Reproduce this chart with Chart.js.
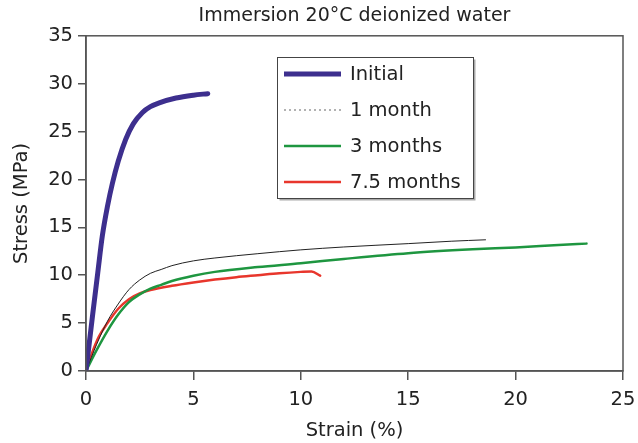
<!DOCTYPE html>
<html>
<head>
<meta charset="utf-8">
<script src="https://cdn.jsdelivr.net/npm/chart.js@4.4.1/dist/chart.umd.min.js"></script>
<style>
  body { margin: 0; background: #fff; }
  #wrap { width: 638px; height: 443px; }
</style>
</head>
<body>
<div id="wrap"><canvas id="myChart" width="638" height="443"></canvas></div>
<script>
// strain (%) / stress (MPa)
var initialStrain = [0, 0.3, 0.55, 0.76, 1.0, 1.23, 1.5, 1.85, 2.2, 2.63, 3.0, 3.41, 4.19, 5.0, 5.67]
var initialStress = [0, 5.7, 10.3, 14.1, 17.2, 19.6, 21.9, 24.2, 25.8, 27.0, 27.6, 28.0, 28.5, 28.8, 28.96]

var month1Strain = [0, 0.5, 1.0, 1.5, 2.0, 2.5, 3.0, 3.5, 4.0, 5.0, 6.0, 8.0, 10, 12, 15, 17, 18.6]
var month1Stress = [0, 2.8, 5.2, 7.0, 8.5, 9.5, 10.2, 10.6, 11.0, 11.5, 11.8, 12.25, 12.65, 12.95, 13.3, 13.55, 13.7]

var month3Strain = [0, 0.5, 1.0, 1.5, 2.0, 2.5, 3.0, 3.5, 4.0, 5.0, 6.0, 8.0, 10, 12, 15, 18, 20, 22, 23.3]
var month3Stress = [0, 2.2, 4.2, 5.9, 7.2, 8.0, 8.6, 9.0, 9.4, 9.95, 10.35, 10.85, 11.25, 11.7, 12.3, 12.7, 12.9, 13.15, 13.3]

var month75Strain = [0, 0.3, 0.6, 1.0, 1.5, 2.0, 2.5, 3.0, 4.0, 5.0, 6.0, 7.0, 8.0, 9.0, 10.0, 10.5, 10.9]
var month75Stress = [0, 2.0, 3.6, 5.0, 6.5, 7.5, 8.1, 8.45, 8.9, 9.25, 9.55, 9.8, 10.0, 10.2, 10.35, 10.4, 9.95]

var xTicks = [0, 5, 10, 15, 20, 25]
var yTicks = [0, 5, 10, 15, 20, 25, 30, 35]

function pts(xs, ys) {
    return xs.map(function (x, i) { return { x: x, y: ys[i] } })
}

Chart.defaults.font.family = "'DejaVu Sans', sans-serif"
Chart.defaults.color = '#222'

const axisColor = '#555'

// frame round the plot plus the boxed legend inside it
const boxPlugin = {
    id: 'boxPlugin',
    afterDraw(chart) {
        const ctx = chart.ctx
        const a = chart.chartArea
        ctx.save()
        ctx.strokeStyle = axisColor
        ctx.lineWidth = 1.5
        ctx.strokeRect(a.left, a.top, a.right - a.left, a.bottom - a.top)

        // legend
        const bx = 277.5, by = 57.5, bw = 196, bh = 141
        ctx.fillStyle = '#fff'
        ctx.fillRect(bx, by, bw, bh)
        ctx.strokeStyle = '#aaa'
        ctx.lineWidth = 2
        ctx.beginPath()
        ctx.moveTo(bx + 2, by + bh + 1)
        ctx.lineTo(bx + bw + 1, by + bh + 1)
        ctx.lineTo(bx + bw + 1, by + 2)
        ctx.stroke()
        ctx.strokeStyle = '#444'
        ctx.lineWidth = 1
        ctx.strokeRect(bx, by, bw, bh)

        ctx.font = "19.5px 'DejaVu Sans', sans-serif"
        ctx.textBaseline = 'middle'
        ctx.textAlign = 'left'
        chart.data.datasets.forEach(function (ds, i) {
            const ly = 74 + i * 36
            ctx.beginPath()
            ctx.strokeStyle = ds.legendColor || ds.borderColor
            ctx.lineWidth = ds.legendWidth || ds.borderWidth
            ctx.setLineDash(ds.legendDash || [])
            ctx.moveTo(284, ly)
            ctx.lineTo(341, ly)
            ctx.stroke()
            ctx.setLineDash([])
            ctx.fillStyle = '#222'
            ctx.fillText(ds.label, 350, ly + 1)
        })
        ctx.restore()
    }
}

new Chart(document.getElementById('myChart'), {
    type: 'line',
    data: {
        datasets: [{
            label: 'Initial',
            data: pts(initialStrain, initialStress),
            borderColor: '#3d2f8e',
            borderWidth: 5,
            legendWidth: 5
        }, {
            label: '1 month',
            data: pts(month1Strain, month1Stress),
            borderColor: '#222',
            borderWidth: 1,
            legendColor: '#666',
            legendWidth: 1.2,
            legendDash: [2, 3]
        }, {
            label: '3 months',
            data: pts(month3Strain, month3Stress),
            borderColor: '#1e9640',
            borderWidth: 2.5
        }, {
            label: '7.5 months',
            data: pts(month75Strain, month75Stress),
            borderColor: '#e8362c',
            borderWidth: 2.5
        }]
    },
    options: {
        responsive: false,
        animation: false,
        layout: { padding: { left: 0, right: 15, top: 0, bottom: 0 } },
        elements: {
            point: { radius: 0 },
            line: { cubicInterpolationMode: 'monotone', borderCapStyle: 'round' }
        },
        plugins: {
            legend: { display: false },
            tooltip: { enabled: false },
            title: {
                display: true,
                fullSize: false,
                text: 'Immersion 20°C deionized water',
                color: '#222',
                font: { size: 19, weight: 'normal' },
                padding: { top: 5, bottom: 8 }
            }
        },
        scales: {
            x: {
                type: 'linear',
                min: 0,
                max: 25,
                afterBuildTicks: function (s) { s.ticks = xTicks.map(function (v) { return { value: v } }) },
                afterFit: function (s) { s.height = 72; s.paddingLeft = 0; s.paddingRight = 0 },
                ticks: { font: { size: 19.5 }, color: '#222', padding: 8, maxRotation: 0 },
                grid: { drawOnChartArea: false, drawTicks: true, tickLength: 9, color: axisColor, lineWidth: 1.5 },
                border: { color: axisColor, width: 1.5 },
                title: { display: true, text: 'Strain (%)', font: { size: 19.5 }, color: '#222', padding: { top: 0, bottom: 0 } }
            },
            y: {
                type: 'linear',
                min: 0,
                max: 35,
                afterBuildTicks: function (s) { s.ticks = yTicks.map(function (v) { return { value: v } }) },
                afterFit: function (s) { s.width = 86; s.paddingTop = 0; s.paddingBottom = 0 },
                ticks: { font: { size: 19.5 }, color: '#222', padding: 5 },
                grid: { drawOnChartArea: false, drawTicks: true, tickLength: 8, color: axisColor, lineWidth: 1.5 },
                border: { color: axisColor, width: 1.5 },
                title: { display: true, text: 'Stress (MPa)', font: { size: 19.5 }, color: '#222', padding: { top: 10, bottom: 0 } }
            }
        }
    },
    plugins: [boxPlugin]
})
</script>
</body>
</html>
